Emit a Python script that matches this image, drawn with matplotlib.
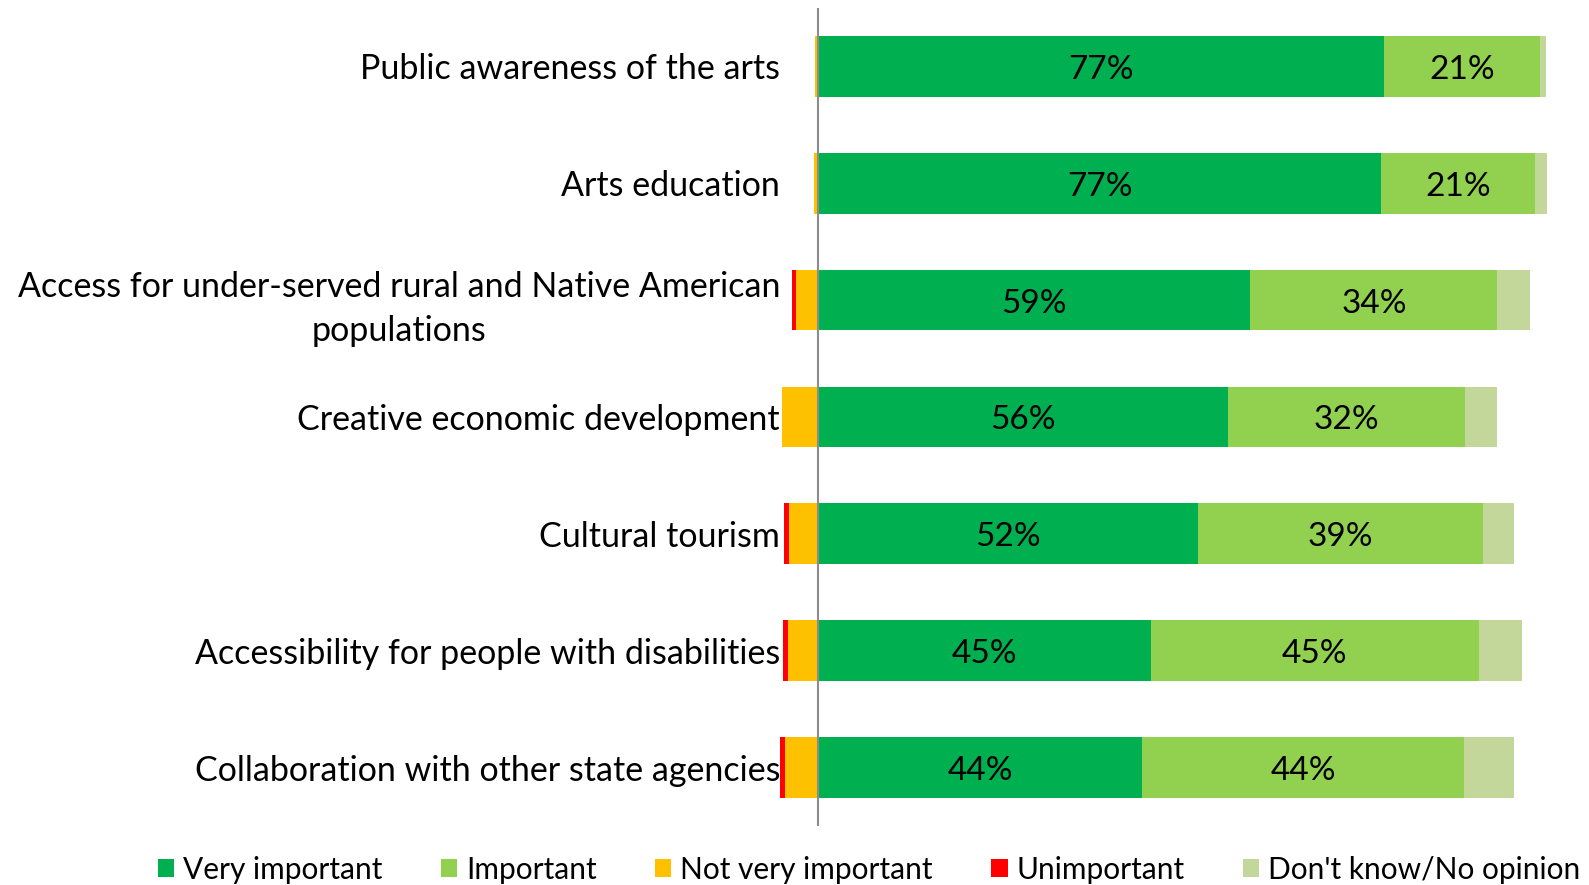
import numpy as np
from matplotlib import pyplot as plt
from matplotlib.patches import Patch

categories = [
    "Public awareness of the arts",
    "Arts education",
    "Access for under-served rural and Native American\npopulations",
    "Creative economic development",
    "Cultural tourism",
    "Accessibility for people with disabilities",
    "Collaboration with other state agencies",
]
very_important = [77.0, 76.6, 58.8, 55.8, 51.6, 45.2, 44.1]
important = [21.2, 20.9, 33.6, 32.2, 38.9, 44.7, 43.8]
not_very_important = [0.4, 0.6, 3.0, 5.0, 4.0, 4.1, 4.5]
unimportant = [0, 0, 0.6, 0, 0.6, 0.7, 0.7]
dont_know = [0.8, 1.6, 4.4, 4.4, 4.1, 5.9, 6.7]

series_names = ["Very important", "Important", "Not very important", "Unimportant", "Don't know/No opinion"]
colors = ["#00B050", "#92D050", "#FFC000", "#FF0000", "#C4D79B"]

plt.rcParams["font.family"] = ["Lato", "DejaVu Sans"]

fig = plt.figure(figsize=(15.89, 8.85), dpi=100)
ax = fig.add_axes([0.4909, 0.0667, 0.4908, 0.9243])

y = np.arange(len(categories))
h = 0.52

vi = np.array(very_important, dtype=float)
im = np.array(important, dtype=float)
nv = np.array(not_very_important, dtype=float)
un = np.array(unimportant, dtype=float)
dk = np.array(dont_know, dtype=float)

ax.barh(y, vi, height=h, left=0, color=colors[0])
ax.barh(y, im, height=h, left=vi, color=colors[1])
ax.barh(y, dk, height=h, left=vi + im, color=colors[4])
ax.barh(y, -nv, height=h, left=0, color=colors[2])
ax.barh(y, -un, height=h, left=-nv, color=colors[3])

# data labels on the two big segments
for i in range(len(categories)):
    ax.text(vi[i] / 2, y[i] + 0.03, f"{vi[i]:.0f}%", ha="center", va="center", fontsize=24)
    ax.text(vi[i] + im[i] / 2, y[i] + 0.03, f"{im[i]:.0f}%", ha="center", va="center", fontsize=24)

ax.axvline(0, color="#8c8c8c", lw=1.5)

ax.set_xlim(-5.2, 100.9)
ax.set_ylim(len(categories) - 0.5, -0.5)
ax.set_yticks(y)
ax.set_yticklabels(categories, fontsize=24.5, multialignment="center", linespacing=1.45)
ax.set_xticks([])
ax.tick_params(axis="y", length=0, pad=0)
for s in ax.spines.values():
    s.set_visible(False)

handles = [Patch(facecolor=c, label=n) for c, n in zip(colors, series_names)]
fig.legend(
    handles=handles,
    loc="center",
    bbox_to_anchor=(0.547, 0.017),
    ncol=5,
    frameon=False,
    fontsize=21.5,
    handlelength=0.55,
    handleheight=0.55,
    handletextpad=0.3,
    columnspacing=1.95,
)

fig.savefig("out.png", dpi=100)
